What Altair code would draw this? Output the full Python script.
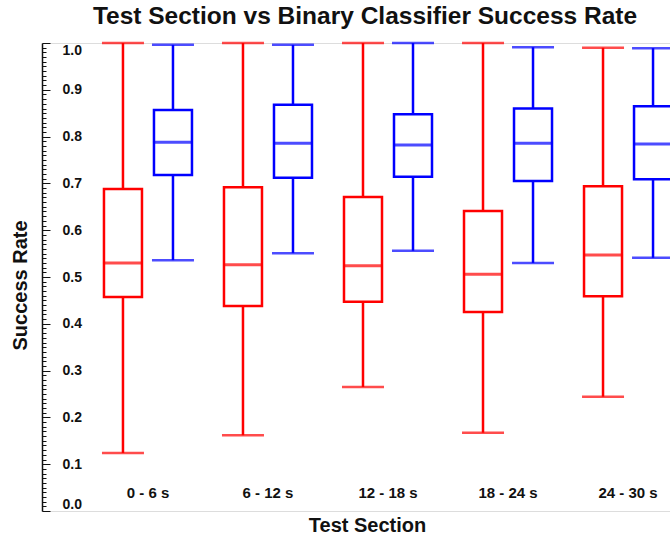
import altair as alt
import pandas as pd

# Test sections along the x axis
sections = ["0 - 6 s", "6 - 12 s", "12 - 18 s", "18 - 24 s", "24 - 30 s"]

# Box statistics for the first series (drawn in red)
base_low = [0.124, 0.162, 0.265, 0.167, 0.244]
base_q1 = [0.457, 0.438, 0.447, 0.425, 0.459]
base_med = [0.530, 0.526, 0.524, 0.506, 0.547]
base_q3 = [0.688, 0.692, 0.671, 0.641, 0.694]
base_high = [1.000, 1.000, 1.000, 1.000, 0.990]

# Box statistics for the binary classifier (drawn in blue)
clf_low = [0.536, 0.551, 0.556, 0.530, 0.541]
clf_q1 = [0.718, 0.712, 0.714, 0.705, 0.709]
clf_med = [0.788, 0.786, 0.782, 0.786, 0.784]
clf_q3 = [0.857, 0.868, 0.848, 0.860, 0.865]
clf_high = [0.996, 0.996, 1.000, 0.991, 0.989]

series_names = ["Baseline", "Classifier"]
series_colors = ["#ff0000", "#0000ff"]

rows = []
for name, stats in zip(series_names, [
    (base_low, base_q1, base_med, base_q3, base_high),
    (clf_low, clf_q1, clf_med, clf_q3, clf_high),
]):
    for i, sec in enumerate(sections):
        rows.append({
            "section": sec, "series": name,
            "low": stats[0][i], "q1": stats[1][i], "median": stats[2][i],
            "q3": stats[3][i], "high": stats[4][i],
        })
df = pd.DataFrame(rows)

FONT = "Liberation Sans"
W, H = 628, 468

# y ticks every 0.01; every tenth one is a labelled major tick
tick_values = [round(i / 100, 2) for i in range(101)]
is_major = "round(datum.value * 100) % 10 === 0"

x_enc = alt.X(
    "section:N", sort=sections,
    scale=alt.Scale(range=[0, 692], paddingOuter=0.383, paddingInner=0),
    axis=alt.Axis(
        orient="bottom", offset=-26, domain=False, ticks=False, grid=False,
        labelAngle=0, labelPadding=0, labelFont=FONT, labelFontSize=15,
        labelFontWeight="bold", labelColor="#111",
        title="Test Section", titleFont=FONT, titleFontSize=20,
        titleFontWeight="bold", titleColor="#111",
        titleX=325, titleY=40, titleAlign="center", titleBaseline="middle",
    ),
)
xo_enc = alt.XOffset(
    "series:N", sort=series_names,
    scale=alt.Scale(paddingOuter=0.2, paddingInner=0),
)
y_scale = alt.Scale(domain=[0, 1], nice=False, zero=False)
y_axis = alt.Axis(
    orient="right", offset=-W, values=tick_values, grid=False,
    domainColor="#111", domainWidth=1.5, tickColor="#111", tickWidth=1,
    tickSize={"condition": {"test": is_major, "value": 8}, "value": 4},
    labelExpr=f"{is_major} ? format(datum.value, '.1f') : ''",
    labelOverlap=False, labelFlush=True, labelFlushOffset=0,
    labelPadding=12, labelFont=FONT, labelFontSize=14,
    labelFontWeight="bold", labelColor="#111",
    title="Success Rate", titleFont=FONT, titleFontSize=20,
    titleFontWeight="bold", titleColor="#111", titleAngle=270,
    titleX=-22, titleY=242, titleAlign="center", titleBaseline="middle",
)
color_scale = alt.Scale(domain=series_names, range=series_colors)


def y_enc(field):
    # every layer carries the same y axis definition so the merged axis keeps it
    return alt.Y(f"{field}:Q", scale=y_scale, axis=y_axis)


base = alt.Chart(df)

whiskers = base.mark_rule(strokeWidth=2.5).encode(
    x=x_enc, xOffset=xo_enc,
    y=y_enc("low"),
    y2="high:Q",
    color=alt.Color("series:N", scale=color_scale, legend=None),
)
boxes = base.mark_bar(width=38, fill="white", strokeWidth=2.5).encode(
    x=x_enc, xOffset=xo_enc,
    y=y_enc("q1"),
    y2="q3:Q",
    stroke=alt.Stroke("series:N", scale=color_scale, legend=None),
)
medians = base.mark_tick(size=40, thickness=3).encode(
    x=x_enc, xOffset=xo_enc,
    y=y_enc("median"),
    color=alt.Color("series:N", scale=color_scale, legend=None),
)
caps_low = base.mark_tick(size=42, thickness=2.5).encode(
    x=x_enc, xOffset=xo_enc,
    y=y_enc("low"),
    color=alt.Color("series:N", scale=color_scale, legend=None),
)
caps_high = base.mark_tick(size=42, thickness=2.5).encode(
    x=x_enc, xOffset=xo_enc,
    y=y_enc("high"),
    color=alt.Color("series:N", scale=color_scale, legend=None),
)

chart = alt.layer(whiskers, boxes, medians, caps_low, caps_high).properties(
    width=W, height=H,
    padding={"left": 42, "top": 43, "right": 0, "bottom": 25},
    autosize=alt.AutoSizeParams(type="none"),
    title=alt.TitleParams(
        "Test Section vs Binary Classifier Success Rate",
        font=FONT, fontSize=24.5, fontWeight="bold", color="#111",
        anchor="middle", dx=9, offset=11,
    ),
).configure_view(stroke=None).configure(background="white")

chart.save("out.html", embed_options={"renderer": "svg", "actions": False})
